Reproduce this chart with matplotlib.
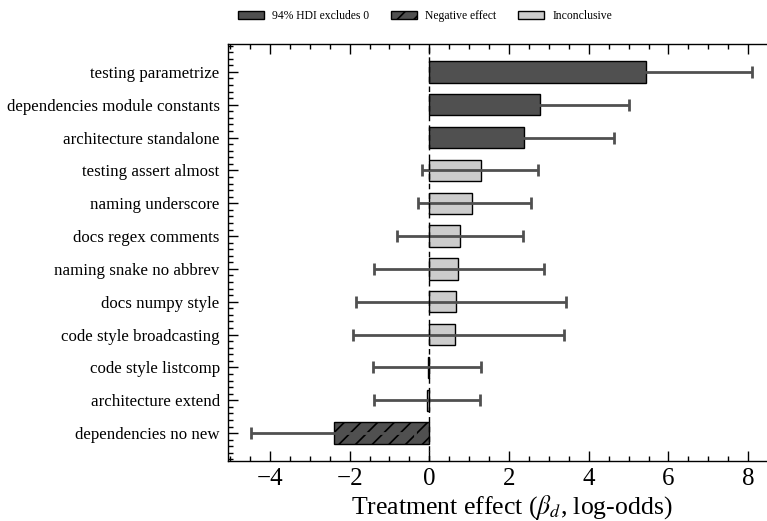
import matplotlib
matplotlib.use("Agg")
import matplotlib.pyplot as plt
from matplotlib.patches import Patch
from matplotlib.ticker import MultipleLocator, AutoMinorLocator
import numpy as np

plt.rcParams['font.family'] = ['Liberation Serif', 'DejaVu Serif']
plt.rcParams['mathtext.fontset'] = 'stix'
plt.rcParams['hatch.linewidth'] = 1.2

labels = ["testing parametrize", "dependencies module constants", "architecture standalone",
          "testing assert almost", "naming underscore", "docs regex comments",
          "naming snake no abbrev", "docs numpy style", "code style broadcasting",
          "code style listcomp", "architecture extend", "dependencies no new"]
means = [5.44, 2.77, 2.38, 1.30, 1.06, 0.78, 0.73, 0.68, 0.65, -0.02, -0.07, -2.40]
lower = [2.80, 0.60, 0.20, -0.19, -0.29, -0.81, -1.38, -1.83, -1.91, -1.41, -1.38, -4.47]
upper = [8.10, 5.00, 4.64, 2.72, 2.56, 2.36, 2.87, 3.44, 3.37, 1.30, 1.28, -0.35]
status = ["sig", "sig", "sig", "inc", "inc", "inc", "inc", "inc", "inc", "inc", "inc", "neg"]

dark = "#505050"
light = "#cccccc"

fig = plt.figure(figsize=(7.67, 5.21), dpi=100)
ax = fig.add_axes([228/767, 1 - 461/521, (796 - 228)/767, (461 - 44)/521])

y = np.arange(len(labels))
for i in range(len(labels)):
    st = status[i]
    fc = light if st == "inc" else dark
    hatch = "//" if st == "neg" else None
    ax.barh(y[i], means[i], height=0.65, color=fc, edgecolor="black",
            linewidth=1.0, hatch=hatch, zorder=2)
m = np.array(means)
err = np.vstack([m - np.array(lower), np.array(upper) - m])
ax.errorbar(m, y, xerr=err, fmt="none", ecolor=dark, elinewidth=2,
            capsize=4, capthick=2, zorder=3)
ax.axvline(0, color="black", linestyle=(0, (4, 3)), linewidth=1.0, zorder=4)

ax.set_yticks(y)
ax.set_yticklabels(labels, fontsize=12.2)
ax.set_ylim(len(labels) - 1 + 0.85, -0.85)
ax.set_xlim(-5.05, 9.2)
ax.xaxis.set_major_locator(MultipleLocator(2))
ax.xaxis.set_minor_locator(MultipleLocator(0.5))
ax.yaxis.set_minor_locator(AutoMinorLocator(5))
ax.tick_params(axis="both", which="both", direction="in", top=True, right=True)
ax.tick_params(axis="both", which="major", length=7, width=1)
ax.tick_params(axis="both", which="minor", length=3.5, width=1)
ax.tick_params(axis="x", labelsize=18, pad=5)
ax.tick_params(axis="y", pad=6)
for s in ax.spines.values():
    s.set_linewidth(1.0)
ax.set_xlabel(r"Treatment effect ($\beta_d$, log-odds)", fontsize=18.5, labelpad=2)

handles = [Patch(facecolor=dark, edgecolor="black", label="94% HDI excludes 0"),
           Patch(facecolor=dark, edgecolor="black", hatch="//", label="Negative effect"),
           Patch(facecolor=light, edgecolor="black", label="Inconclusive")]
fig.legend(handles=handles, loc="center", bbox_to_anchor=(425/767, 1 - 16/521),
           ncol=3, frameon=False, fontsize=8.4, handlelength=2.2, handletextpad=0.7,
           columnspacing=1.9)

fig.savefig("out.png", dpi=100)
